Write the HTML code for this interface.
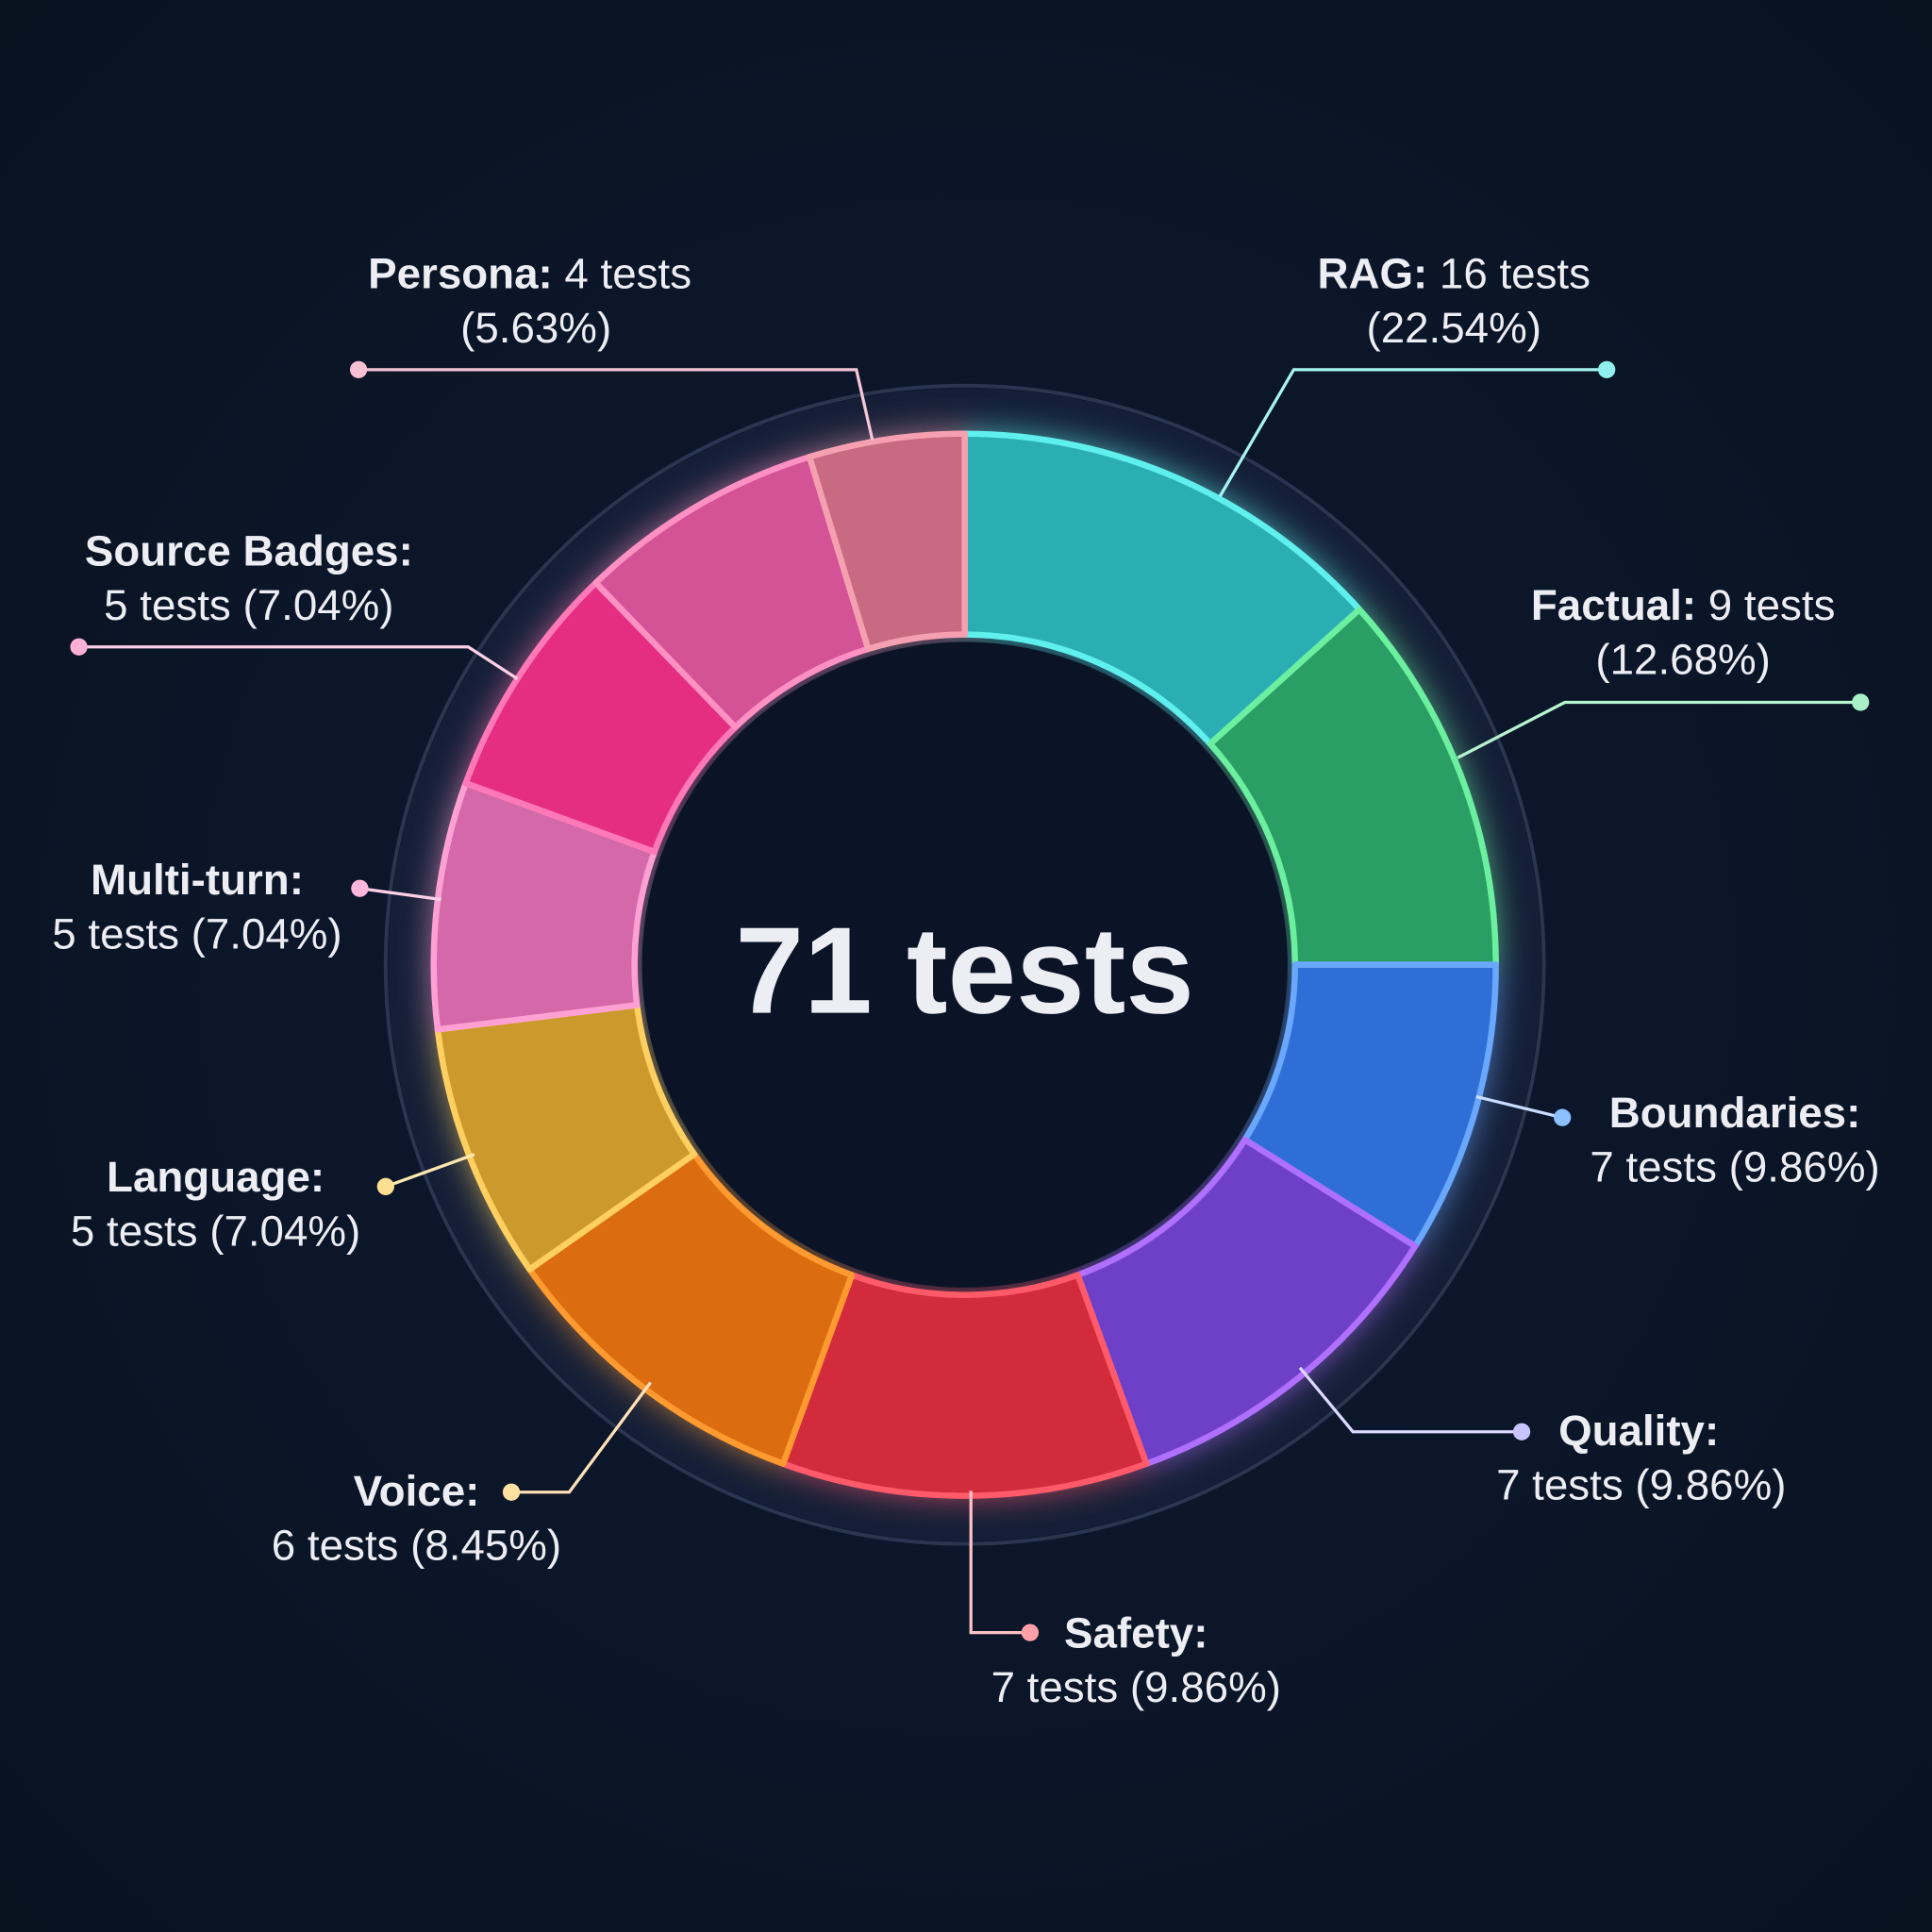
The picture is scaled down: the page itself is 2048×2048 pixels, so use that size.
<!DOCTYPE html>
<html><head><meta charset="utf-8"><style>
html,body{margin:0;padding:0;background:#0a1428;}
svg{display:block}
text{font-family:"Liberation Sans",sans-serif;fill:#eceef4}
.b{font-weight:bold}
</style></head><body>
<svg id="s" width="2048" height="2048" viewBox="0 0 1568 1568" xmlns="http://www.w3.org/2000/svg">
<defs>
<radialGradient id="bg" cx="50%" cy="50%" r="70%">
<stop offset="0" stop-color="#0d1a33"/><stop offset="1" stop-color="#09121f"/>
</radialGradient>
<filter id="glow" x="-30%" y="-30%" width="160%" height="160%"><feGaussianBlur stdDeviation="14"/></filter>
</defs>
<rect width="1568" height="1568" fill="url(#bg)"/>
<circle cx="783" cy="783" r="470" fill="none" stroke="#2a3550" stroke-width="3"/>
<circle cx="783" cy="783" r="450" fill="none" stroke="#1a2440" stroke-width="36" opacity="0.6"/>
<g id="glowg" filter="url(#glow)" opacity="0.75"></g>
<g id="segs"></g>
<circle cx="783" cy="783" r="262" fill="#0a1426"/>
<text x="783" y="822" text-anchor="middle" class="b" font-size="100">71 tests</text>
<g stroke-width="2.5" fill="none">
<polyline points="291,300 695,300 708,357" stroke="#f4c6d6"/>
<polyline points="1304,300 1050,300 990,403" stroke="#a8f4f2"/>
<polyline points="1510,570 1270,570 1183,615" stroke="#b8f4d0"/>
<polyline points="1268,907 1198,890" stroke="#c8dcff"/>
<polyline points="1235,1162 1098,1162 1055,1110" stroke="#dcd8ff"/>
<polyline points="836,1325 788,1325 788,1210" stroke="#ffc0c4"/>
<polyline points="415,1211 462,1211 528,1122" stroke="#ffe0b8"/>
<polyline points="313,963 385,937" stroke="#ffe8b0"/>
<polyline points="292,721 358,730" stroke="#ffd0e8"/>
<polyline points="64,525 380,525 420,551" stroke="#ffd0e8"/>
</g>
<g>
<circle cx="291" cy="300" r="7" fill="#f8c0d4"/>
<circle cx="1304" cy="300" r="7" fill="#8ff0ee"/>
<circle cx="1510" cy="570" r="7" fill="#a8f0c8"/>
<circle cx="1268" cy="907" r="7" fill="#8cc0ff"/>
<circle cx="1235" cy="1162" r="7" fill="#c8c4ff"/>
<circle cx="836" cy="1325" r="7" fill="#ffa0a8"/>
<circle cx="415" cy="1211" r="7" fill="#ffe0a0"/>
<circle cx="313" cy="963" r="7" fill="#ffe090"/>
<circle cx="292" cy="721" r="7" fill="#ffb8dc"/>
<circle cx="64" cy="525" r="7" fill="#ffb0d4"/>
</g>
<g font-size="35" text-anchor="middle">
<text x="430" y="234"><tspan class="b">Persona:</tspan> 4 tests</text><text x="435" y="278">(5.63%)</text>
<text x="1180" y="234"><tspan class="b">RAG:</tspan> 16 tests</text><text x="1180" y="278">(22.54%)</text>
<text x="1366" y="503"><tspan class="b">Factual:</tspan> 9 tests</text><text x="1366" y="547">(12.68%)</text>
<text x="1408" y="915" class="b">Boundaries:</text><text x="1408" y="959">7 tests (9.86%)</text>
<text x="1330" y="1173" class="b">Quality:</text><text x="1332" y="1217">7 tests (9.86%)</text>
<text x="922" y="1337" class="b">Safety:</text><text x="922" y="1381">7 tests (9.86%)</text>
<text x="338" y="1222" class="b">Voice:</text><text x="338" y="1266">6 tests (8.45%)</text>
<text x="175" y="967" class="b">Language:</text><text x="175" y="1011">5 tests (7.04%)</text>
<text x="160" y="726" class="b">Multi-turn:</text><text x="160" y="770">5 tests (7.04%)</text>
<text x="202" y="459" class="b">Source Badges:</text><text x="202" y="503">5 tests (7.04%)</text>
</g>
</svg>
<script>
var segs=[[0,48,"#2aaeb4","#5ff0ee"],[48,90,"#2a9e64","#6cf0a0"],[90,122,"#2f6ed6","#6aa8ff"],[122,160,"#6e40c8","#b070ff"],[160,200,"#d22c3c","#ff5a6a"],[200,235,"#dc6c10","#ff9a30"],[235,263,"#cc9a2c","#ffd060"],[263,290,"#d468a8","#ffa0d4"],[290,316,"#e52e82","#ff78b8"],[316,343,"#d45296","#ff90c4"],[343,360,"#c86a82","#f5a0b0"]];
var cx=783,cy=783,R=431,r=268,ns="http://www.w3.org/2000/svg";
function p(a,rad){var t=a*Math.PI/180;return (cx+rad*Math.sin(t)).toFixed(1)+","+(cy-rad*Math.cos(t)).toFixed(1);}
function d(a,b){var l=(b-a)>180?1:0;return "M"+p(a,R)+" A"+R+","+R+" 0 "+l+" 1 "+p(b,R)+" L"+p(b,r)+" A"+r+","+r+" 0 "+l+" 0 "+p(a,r)+" Z";}
var G=document.getElementById("segs"),GL=document.getElementById("glowg");
segs.forEach(function(s){
 var g=document.createElementNS(ns,"path");g.setAttribute("d",d(s[0],s[1]));g.setAttribute("fill",s[3]);GL.appendChild(g);
 var e=document.createElementNS(ns,"path");e.setAttribute("d",d(s[0],s[1]));e.setAttribute("fill",s[2]);e.setAttribute("stroke",s[3]);e.setAttribute("stroke-width","5");e.setAttribute("stroke-linejoin","round");G.appendChild(e);
});
</script>
</body></html>
